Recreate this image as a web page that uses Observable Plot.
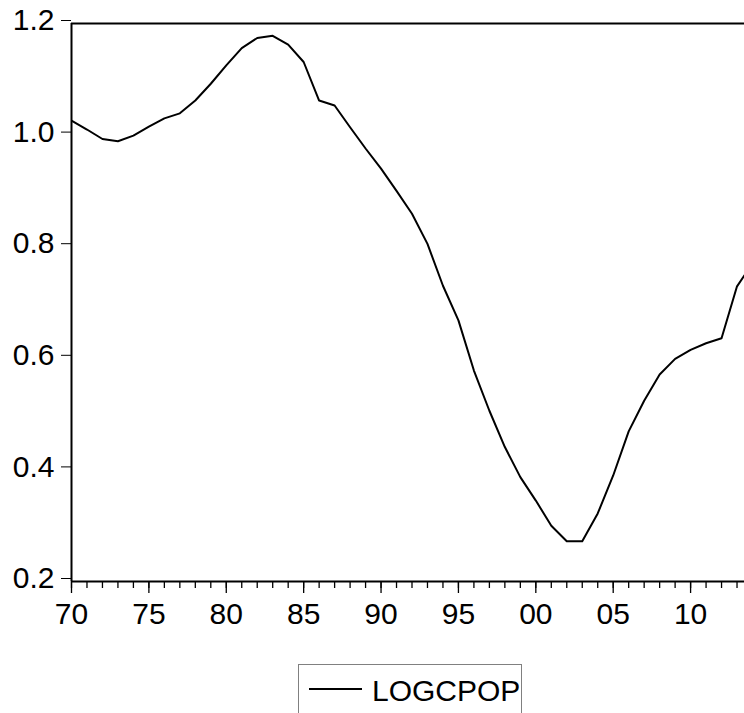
<!DOCTYPE html>
<html>
<head>
<meta charset="utf-8">
<script src="https://cdn.jsdelivr.net/npm/d3@7"></script>
<script src="https://cdn.jsdelivr.net/npm/@observablehq/plot@0.6"></script>
<style>
  html, body { margin: 0; padding: 0; background: #fff; overflow: hidden; width: 744px; height: 713px; }
  #wrap { width: 744px; overflow: hidden; }
  #legend { position: relative; margin-left: 298px; margin-top: 24px; width: 224px; height: 60px; border: 1px solid #808080; box-sizing: border-box; }
  #legend svg { display: block; }
</style>
</head>
<body>
<div id="wrap"></div>
<div id="legend"></div>
<script>
const years = [1970,1971,1972,1973,1974,1975,1976,1977,1978,1979,1980,1981,1982,1983,1984,1985,1986,1987,1988,1989,1990,1991,1992,1993,1994,1995,1996,1997,1998,1999,2000,2001,2002,2003,2004,2005,2006,2007,2008,2009,2010,2011,2012,2013,2014];
const logcpop = [1.026,1.010,0.993,0.989,0.999,1.015,1.030,1.039,1.062,1.092,1.125,1.156,1.174,1.178,1.162,1.131,1.062,1.053,1.014,0.976,0.940,0.900,0.859,0.805,0.730,0.668,0.578,0.506,0.441,0.387,0.345,0.300,0.272,0.272,0.322,0.390,0.469,0.524,0.571,0.599,0.615,0.627,0.636,0.729,0.770];
const yTicks = [0.2,0.4,0.6,0.8,1.0,1.2];
const xMajor = [1970,1975,1980,1985,1990,1995,2000,2005,2010];
const xMinor = years;
const seriesName = "LOGCPOP";

const data = years.map((y, i) => ({year: y, value: logcpop[i]}));
const font = "'Liberation Sans', Arial, sans-serif";

const chart = Plot.plot({
  width: 753,
  height: 640,
  marginLeft: 71,
  marginRight: 1,
  marginTop: 23,
  marginBottom: 59,
  style: {fontFamily: font, color: "#000", background: "#fff", maxWidth: "none"},
  x: {domain: [1970, 2014]},
  y: {domain: [0.2, 1.2]},
  marks: [
    Plot.axisY({ticks: yTicks, tickFormat: d3.format(".1f"), tickSize: 10, tickPadding: 7, fontSize: 30, strokeWidth: 1, dy: -3, label: null}),
    Plot.axisX({ticks: xMinor, tickSize: 7, text: null, strokeWidth: 1.3, label: null}),
    Plot.axisX({ticks: xMajor, tickFormat: d => String(d % 100).padStart(2, "0"), tickSize: 12, tickPadding: 9, fontSize: 30, strokeWidth: 1.3, label: null}),
    Plot.ruleY([1.2], {stroke: "#000", strokeWidth: 2}),
    Plot.ruleY([0.2], {stroke: "#000", strokeWidth: 2}),
    Plot.ruleX([1970], {stroke: "#000", strokeWidth: 2}),
    Plot.line(data, {x: "year", y: "value", stroke: "#000", strokeWidth: 2, clip: true})
  ]
});
document.getElementById("wrap").appendChild(chart);

// legend
const leg = d3.select("#legend").append("svg").attr("width", 222).attr("height", 58);
leg.append("line").attr("x1", 10).attr("x2", 63).attr("y1", 24).attr("y2", 24).attr("stroke", "#000").attr("stroke-width", 2);
leg.append("text").attr("x", 73).attr("y", 35.5).attr("font-family", font).attr("font-size", 30).attr("fill", "#000").text(seriesName);
</script>
</body>
</html>
